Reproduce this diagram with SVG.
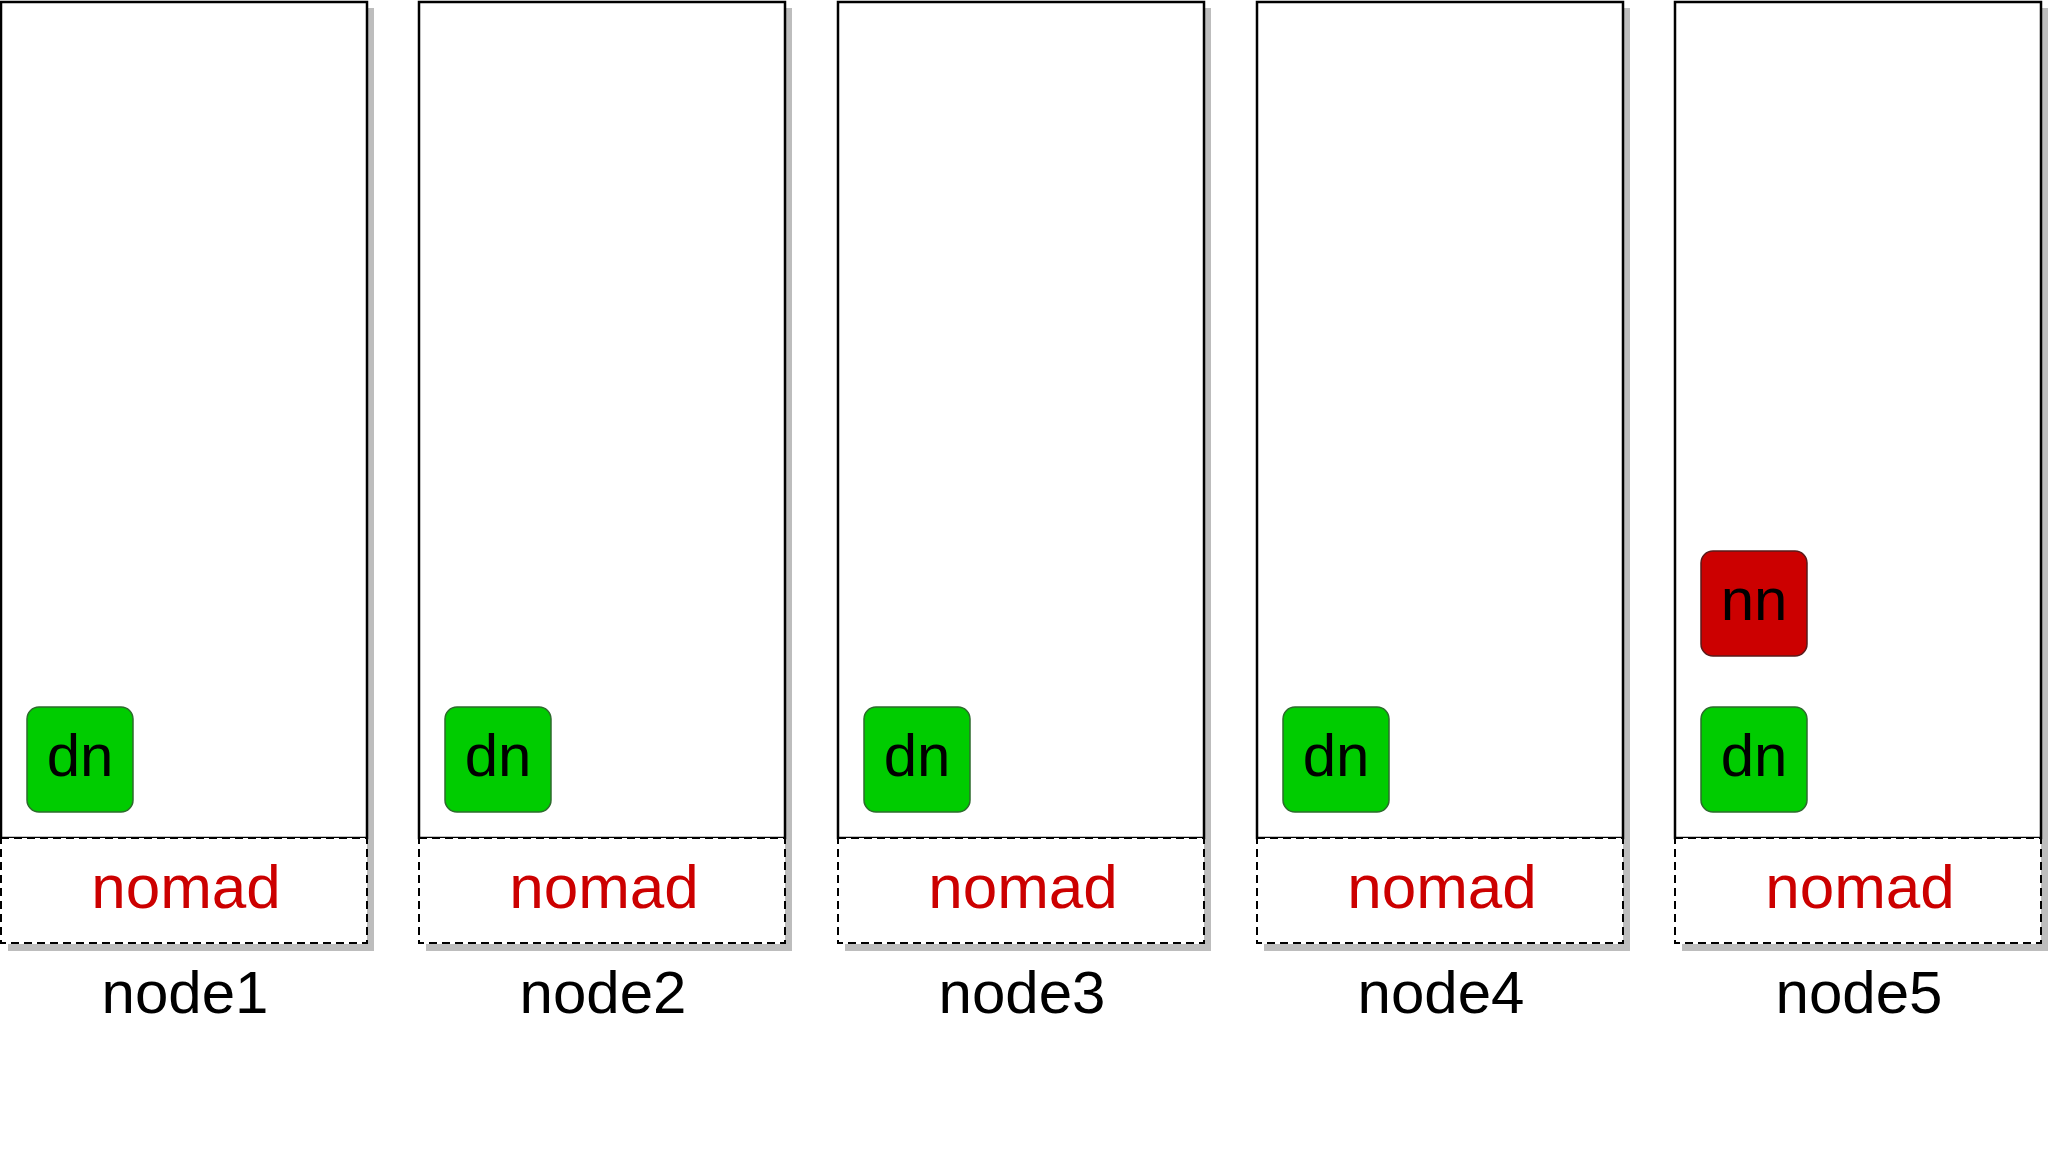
<svg xmlns="http://www.w3.org/2000/svg" width="2048" height="1152" viewBox="0 0 2048 1152">
<style>
.shadow{fill:#bdbdbd;}
.host{fill:#ffffff;stroke:#000000;stroke-width:2.5;}
.nomad{fill:#ffffff;stroke:#000000;stroke-width:2;stroke-dasharray:8 5;}
.nomadt{font-family:"Liberation Sans",Arial,sans-serif;font-size:62px;fill:#cc0000;text-anchor:middle;}
.label{font-family:"Liberation Sans",Arial,sans-serif;font-size:60px;fill:#000000;text-anchor:middle;}
.dn{fill:#00cc00;stroke:#2d6b2d;stroke-width:1.5;}
.nn{fill:#cc0000;stroke:#5a1a1a;stroke-width:1.5;}
.bt{font-family:"Liberation Sans",Arial,sans-serif;font-size:60px;fill:#000000;text-anchor:middle;}
</style>
<rect width="2048" height="1152" fill="#ffffff"/>
<g id="node1" transform="translate(1,0)">
<path class="shadow" d="M366 8 h7 v943 h-366 v-7 h359 z"/>
<rect class="host" x="0" y="2" width="366" height="836"/>
<rect class="nomad" x="0" y="838" width="366" height="105"/>
<text class="nomadt" x="185" y="908">nomad</text>
<text class="label" x="184" y="1013">node1</text>
<g id="node1-dn"><rect class="dn" x="26" y="707" width="106" height="105" rx="12"/><text class="bt" x="79" y="776">dn</text></g>
</g>
<g id="node2" transform="translate(419,0)">
<path class="shadow" d="M366 8 h7 v943 h-366 v-7 h359 z"/>
<rect class="host" x="0" y="2" width="366" height="836"/>
<rect class="nomad" x="0" y="838" width="366" height="105"/>
<text class="nomadt" x="185" y="908">nomad</text>
<text class="label" x="184" y="1013">node2</text>
<g id="node2-dn"><rect class="dn" x="26" y="707" width="106" height="105" rx="12"/><text class="bt" x="79" y="776">dn</text></g>
</g>
<g id="node3" transform="translate(838,0)">
<path class="shadow" d="M366 8 h7 v943 h-366 v-7 h359 z"/>
<rect class="host" x="0" y="2" width="366" height="836"/>
<rect class="nomad" x="0" y="838" width="366" height="105"/>
<text class="nomadt" x="185" y="908">nomad</text>
<text class="label" x="184" y="1013">node3</text>
<g id="node3-dn"><rect class="dn" x="26" y="707" width="106" height="105" rx="12"/><text class="bt" x="79" y="776">dn</text></g>
</g>
<g id="node4" transform="translate(1257,0)">
<path class="shadow" d="M366 8 h7 v943 h-366 v-7 h359 z"/>
<rect class="host" x="0" y="2" width="366" height="836"/>
<rect class="nomad" x="0" y="838" width="366" height="105"/>
<text class="nomadt" x="185" y="908">nomad</text>
<text class="label" x="184" y="1013">node4</text>
<g id="node4-dn"><rect class="dn" x="26" y="707" width="106" height="105" rx="12"/><text class="bt" x="79" y="776">dn</text></g>
</g>
<g id="node5" transform="translate(1675,0)">
<path class="shadow" d="M366 8 h7 v943 h-366 v-7 h359 z"/>
<rect class="host" x="0" y="2" width="366" height="836"/>
<rect class="nomad" x="0" y="838" width="366" height="105"/>
<text class="nomadt" x="185" y="908">nomad</text>
<text class="label" x="184" y="1013">node5</text>
<g id="node5-nn"><rect class="nn" x="26" y="551" width="106" height="105" rx="12"/><text class="bt" x="79" y="620">nn</text></g>
<g id="node5-dn"><rect class="dn" x="26" y="707" width="106" height="105" rx="12"/><text class="bt" x="79" y="776">dn</text></g>
</g>
<g id="connectors"/>
</svg>
